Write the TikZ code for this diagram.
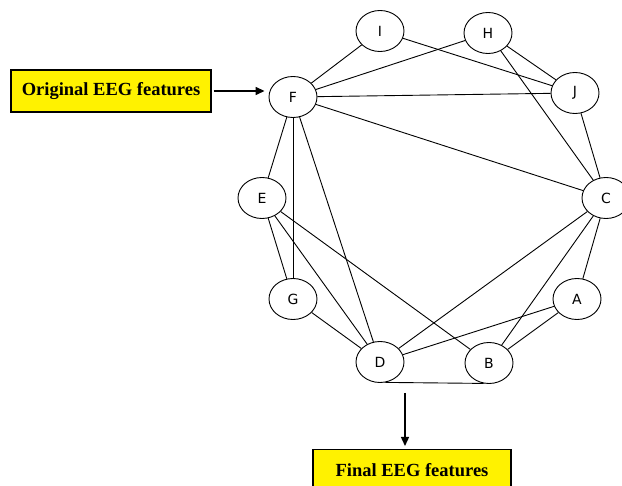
\documentclass[tikz,border=0pt]{standalone}
\usepackage{fontspec}
\setmainfont{Liberation Serif}
\newfontfamily\lettersf{DejaVu Sans}
\usetikzlibrary{shapes.geometric,arrows.meta}
\tikzset{
  feat/.style={ellipse, draw, fill=white, line width=0.9pt, minimum width=48pt,
    minimum height=41pt, inner sep=0pt, font=\lettersf\fontsize{14}{16}\selectfont},
  stage/.style={draw, fill=yellow, line width=1.2pt, inner sep=0pt,
    font=\bfseries\fontsize{18.5}{20}\selectfont},
  link/.style={line width=0.9pt},
  flow/.style={line width=1.4pt, -{Triangle[length=9pt,width=8pt]}}
}
\begin{document}
\begin{tikzpicture}[x=1pt,y=-1pt]
  \useasboundingbox (0,0) rectangle (622,486);
  \clip (0,0) rectangle (622,486);
  % the two input/output boxes
  \node[stage, minimum width=200pt, minimum height=42pt] (orig) at (111,91) {Original EEG features};
  \node[stage, minimum width=198pt, minimum height=42pt, anchor=north] (final) at (412,449) {Final EEG features};
  % features
  \node[feat] (I) at (380,31) {I};
  \node[feat] (H) at (488,33) {H};
  \node[feat] (F) at (293,97) {F};
  \node[feat] (J) at (575,93) {J};
  \node[feat] (E) at (262,198) {E};
  \node[feat] (C) at (606,198) {C};
  \node[feat] (G) at (293,299) {G};
  \node[feat] (A) at (577,299) {A};
  \node[feat] (D) at (380,362) {D};
  \node[feat] (B) at (489,363) {B};
  % edges
  \foreach \u/\v in {I/F, I/J, H/F, H/J, H/C, F/J, F/C, F/E, F/G, F/D,
                     E/G, E/D, E/B, G/D, D/C, D/A, B/A, B/C, C/A, J/C}
    \draw[link] (\u) -- (\v);
  \draw[link] (D.-75) -- (B.-105);
  % flow arrows
  \draw[flow, shorten <=2pt, shorten >=4pt] (orig.east) -- (orig.east -| F.west);
  \coordinate (out) at (405,393);
  \draw[flow, shorten >=3pt] (out) -- (out |- final.north);
\end{tikzpicture}
\end{document}
